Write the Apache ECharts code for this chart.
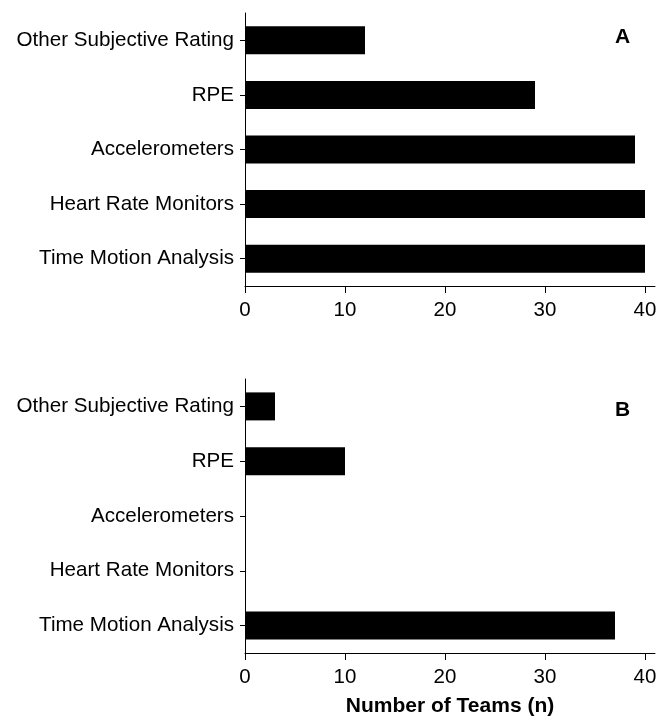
<!DOCTYPE html>
<html><head><meta charset="utf-8">
<script src="https://cdn.jsdelivr.net/npm/echarts@6/dist/echarts.min.js"></script>
<style>html,body{margin:0;padding:0;background:#fff}#c{width:671px;height:724px}</style>
</head><body><div id="c"></div>
<script>
const categories = ["Other Subjective Rating", "RPE", "Accelerometers", "Heart Rate Monitors", "Time Motion Analysis"];
const valuesA = [12, 29, 39, 40, 40];
const valuesB = [3, 10, 0, 0, 37];
const xTicks = [0, 10, 20, 30, 40];
const panelLabels = ["A", "B"];
const axisTitle = "Number of Teams (n)";

const FONT = "Liberation Sans, Arial, sans-serif";
const chart = echarts.init(document.getElementById('c'), null, {renderer: 'canvas'});
const grids = [
  {left: 245, right: 16, top: 13, height: 273},
  {left: 245, right: 16, top: 379, height: 274}
];
function xAx(i, withName) {
  return {
    gridIndex: i, type: 'value', min: 0, max: 41,
    axisLine: {show: true, lineStyle: {color: '#000', width: 1}},
    axisTick: {show: true, length: 7, lineStyle: {color: '#000'}, customValues: xTicks},
    axisLabel: {show: true, margin: 14, color: '#000', fontSize: 20.5, fontFamily: FONT, customValues: xTicks},
    splitLine: {show: false},
    name: withName ? axisTitle : '',
    nameLocation: 'middle', nameGap: 43,
    nameTextStyle: {color: '#000', fontSize: 21, fontWeight: 'bold', fontFamily: FONT, verticalAlign: 'top'}
  };
}
function yAx(i) {
  return {
    gridIndex: i, type: 'category', data: categories, inverse: true,
    axisLine: {show: true, lineStyle: {color: '#000', width: 1}},
    axisTick: {show: true, length: 5, alignWithLabel: true, lineStyle: {color: '#000'}},
    axisLabel: {show: true, margin: 11, color: '#000', fontSize: 20.6, fontFamily: FONT, interval: 0},
    splitLine: {show: false}
  };
}
chart.setOption({
  animation: false,
  backgroundColor: '#fff',
  grid: grids,
  xAxis: [xAx(0, false), xAx(1, true)],
  yAxis: [yAx(0), yAx(1)],
  title: [
    {text: panelLabels[0], left: 610, top: 22, textStyle: {fontSize: 21, fontWeight: 'bold', color: '#000', fontFamily: FONT}},
    {text: panelLabels[1], left: 610, top: 395, textStyle: {fontSize: 21, fontWeight: 'bold', color: '#000', fontFamily: FONT}}
  ],
  series: [
    {type: 'bar', xAxisIndex: 0, yAxisIndex: 0, data: valuesA, barWidth: 28, itemStyle: {color: '#000'}},
    {type: 'bar', xAxisIndex: 1, yAxisIndex: 1, data: valuesB, barWidth: 28, itemStyle: {color: '#000'}}
  ]
});
</script></body></html>
